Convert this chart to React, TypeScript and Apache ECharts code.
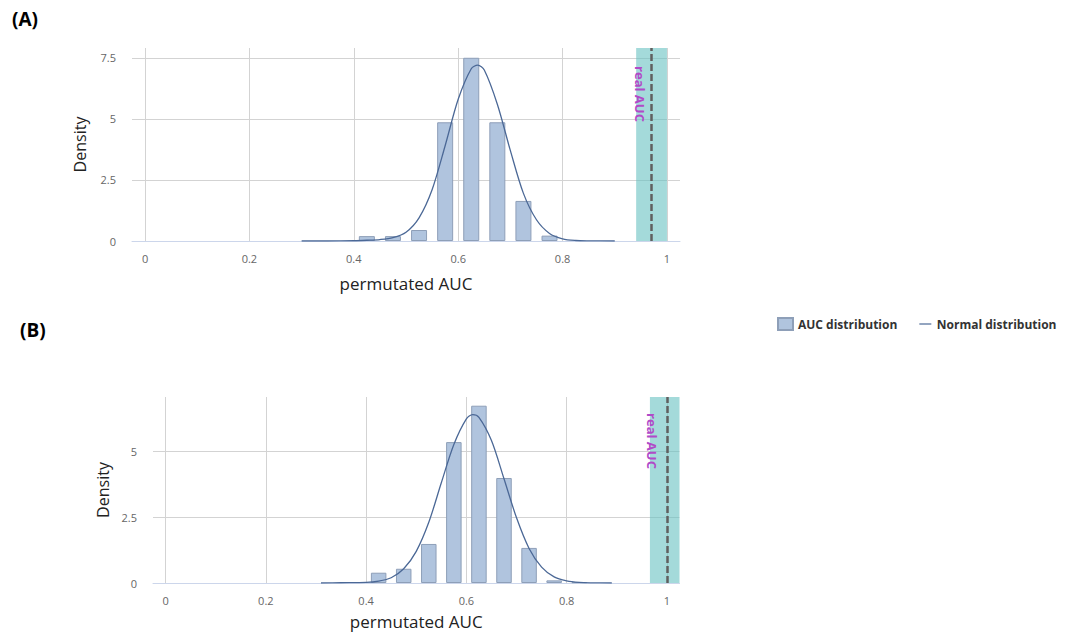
import React, { useEffect, useRef } from "react";
import * as echarts from "echarts";

// ---- data ----
const binCentersA = [0.425, 0.475, 0.525, 0.575, 0.625, 0.675, 0.725, 0.775];
const densityA = [0.2, 0.2, 0.45, 4.86, 7.5, 4.86, 1.64, 0.22];
const binCentersB = [0.425, 0.475, 0.525, 0.575, 0.625, 0.675, 0.725, 0.775, 0.825];
const densityB = [0.39, 0.54, 1.48, 5.34, 6.72, 3.98, 1.33, 0.1, 0.03];

const curveXA = [0.3, 0.35, 0.4, 0.425, 0.45, 0.475, 0.5, 0.525, 0.55, 0.575, 0.6, 0.625, 0.6375, 0.65, 0.675, 0.7, 0.725, 0.75, 0.775, 0.8, 0.825, 0.85, 0.9];
const curveYA = [0, 0, 0.01, 0.03, 0.06, 0.14, 0.36, 0.95, 2.1, 3.9, 5.8, 7.05, 7.2, 7.0, 5.6, 3.7, 1.95, 0.87, 0.31, 0.09, 0.02, 0.005, 0];
const curveXB = [0.31, 0.35, 0.4, 0.425, 0.45, 0.475, 0.5, 0.525, 0.55, 0.575, 0.6, 0.6125, 0.625, 0.65, 0.675, 0.7, 0.725, 0.75, 0.775, 0.8, 0.825, 0.85, 0.89];
const curveYB = [0, 0.01, 0.02, 0.07, 0.2, 0.54, 1.2, 2.3, 3.8, 5.25, 6.22, 6.38, 6.28, 5.4, 3.95, 2.47, 1.31, 0.6, 0.23, 0.08, 0.02, 0.005, 0];

const realAUC = [0.971, 0.996];
const bandA = [0.941, 1.0];
const bandB = [0.966, 1.025];

const xRange = [-0.025, 1.025];
const yMax = [7.9, 7.05];
const yInterval = 2.5;

const panelLabels = ["(A)", "(B)"];
const xTitle = "permutated AUC";
const yTitle = "Density";
const barName = "AUC distribution";
const lineName = "Normal distribution";

const FONT = "'Open Sans', 'Noto Sans', sans-serif";
const BAR_FILL = "#b0c4de";
const BAR_BORDER = "#8e9fb8";
const LINE_COLOR = "#4b6896";
const GRID_COLOR = "#d3d3d3";

export default function App() {
  const ref = useRef<HTMLDivElement>(null);

  useEffect(() => {
    if (!ref.current) return;
    const chart = echarts.init(ref.current, null, { renderer: "svg" });

    const grids = [
      { left: 132, top: 48, width: 548, height: 193 },
      { left: 153, top: 397, width: 526.5, height: 186 },
    ];

    const xAxes = [0, 1].map((i) => ({
      type: "value",
      gridIndex: i,
      min: xRange[0],
      max: xRange[1],
      splitNumber: 5,
      axisLine: { show: true, lineStyle: { color: "#ccd6eb", width: 1 } },
      axisTick: { show: false },
      axisLabel: {
        showMinLabel: false,
        showMaxLabel: false,
        color: "#666",
        fontSize: 11,
        fontFamily: FONT,
        margin: 12,
      },
      splitLine: {
        show: true,
        showMinLine: false,
        showMaxLine: false,
        lineStyle: { color: GRID_COLOR, width: 1 },
      },
      name: xTitle,
      nameLocation: "middle",
      nameGap: i === 0 ? 34 : 30,
      nameTextStyle: { fontSize: 17, color: "#222", fontFamily: FONT },
    }));

    const yAxes = [0, 1].map((i) => ({
      type: "value",
      gridIndex: i,
      min: 0,
      max: yMax[i],
      interval: yInterval,
      axisLine: { show: false },
      axisTick: { show: false },
      axisLabel: {
        showMaxLabel: false,
        color: "#666",
        fontSize: 11,
        fontFamily: FONT,
        margin: 16,
      },
      splitLine: {
        show: true,
        showMaxLine: false,
        lineStyle: { color: GRID_COLOR, width: 1 },
      },
      name: yTitle,
      nameLocation: "middle",
      nameGap: i === 0 ? 44 : 42,
      nameTextStyle: { fontSize: 16, color: "#222", fontFamily: FONT },
    }));

    const bins = [
      binCentersA.map((x, k) => [x, densityA[k]]),
      binCentersB.map((x, k) => [x, densityB[k]]),
    ];
    const curves = [
      curveXA.map((x, k) => [x, curveYA[k]]),
      curveXB.map((x, k) => [x, curveYB[k]]),
    ];
    const bands = [bandA, bandB];

    const series: any[] = [];
    [0, 1].forEach((i) => {
      series.push({
        type: "bar",
        name: barName,
        xAxisIndex: i,
        yAxisIndex: i,
        barWidth: i === 0 ? 16 : 15.5,
        itemStyle: { color: BAR_FILL, borderColor: BAR_BORDER, borderWidth: 1 },
        data: bins[i],
      });
      series.push({
        type: "line",
        name: lineName,
        xAxisIndex: i,
        yAxisIndex: i,
        smooth: 0.3,
        symbol: "none",
        showSymbol: false,
        lineStyle: { color: LINE_COLOR, width: 1.3 },
        itemStyle: { color: LINE_COLOR },
        data: curves[i],
        markArea: {
          silent: true,
          itemStyle: { color: "rgba(103,193,193,0.6)" },
          data: [[{ xAxis: bands[i][0] }, { xAxis: bands[i][1] }]],
        },
        markLine: {
          silent: true,
          symbol: ["none", "none"],
          label: { show: false },
          lineStyle: { color: "#5f5f5f", width: 2.5, type: [7, 3] },
          data: [{ xAxis: realAUC[i] }],
        },
        markPoint: {
          silent: true,
          symbol: "rect",
          symbolSize: 1,
          symbolOffset: [i === 0 ? -12 : -13, i === 0 ? 46 : 44],
          itemStyle: { color: "rgba(0,0,0,0)" },
          label: {
            show: true,
            position: "inside",
            rotate: -90,
            formatter: "real AUC",
            color: "#b04ac8",
            fontSize: 13,
            fontWeight: "bold",
            fontFamily: FONT,
          },
          data: [{ coord: [realAUC[i], yMax[i]] }],
        },
      });
    });

    chart.setOption({
      animation: false,
      backgroundColor: "#fff",
      grid: grids,
      xAxis: xAxes,
      yAxis: yAxes,
      legend: {
        left: 772,
        top: 312,
        itemWidth: 15,
        itemHeight: 12,
        itemGap: 20,
        textStyle: { fontSize: 12, fontWeight: "bold", color: "#333", fontFamily: FONT },
        data: [
          { name: barName, icon: "rect" },
          {
            name: lineName,
            icon: "path://M0,0L0,0M2,5.4H14V6.6H2ZM0,12L0,12",
            itemStyle: { color: LINE_COLOR },
          },
        ],
      },
      graphic: [
        {
          type: "text",
          left: 12,
          top: 9,
          style: { text: panelLabels[0], font: `bold 19px ${FONT}`, fill: "#000" },
        },
        {
          type: "text",
          left: 20,
          top: 320,
          style: { text: panelLabels[1], font: `bold 19px ${FONT}`, fill: "#000" },
        },
      ],
      series,
    });

    return () => chart.dispose();
  }, []);

  return (
    <div
      ref={ref}
      style={{ position: "absolute", left: 0, top: 0, width: 1075, height: 634 }}
    />
  );
}
